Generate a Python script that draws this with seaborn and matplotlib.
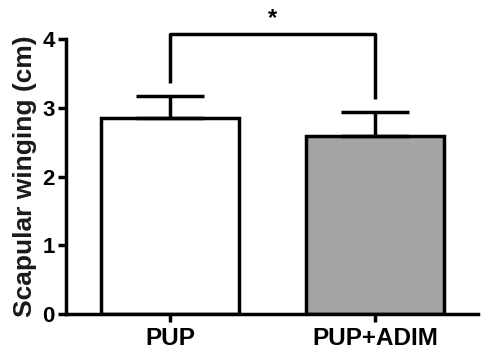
import matplotlib
matplotlib.use("Agg")
import matplotlib.pyplot as plt
import seaborn as sns
import pandas as pd
import numpy as np

categories = ["PUP", "PUP+ADIM"]
means = [2.855, 2.59]
sem = [0.32, 0.35]
bar_colors = ["#ffffff", "#a4a4a8"]
y_ticks = [0, 1, 2, 3, 4]
y_label = "Scapular winging (cm)"
bracket_top = 4.07
bracket_legs = [3.36, 3.13]
sig_label = "*"

sns.set_theme(style="ticks")
plt.rcParams["font.family"] = ["Liberation Sans", "DejaVu Sans"]
plt.rcParams["font.weight"] = "bold"
plt.rcParams["text.color"] = "black"
plt.rcParams["axes.labelcolor"] = "black"

df = pd.DataFrame({"group": categories, "value": means})

fig = plt.figure(figsize=(4.91, 3.58), dpi=100)
ax = fig.add_axes([0.1344, 0.1229, 0.9735 - 0.1344, 0.891 - 0.1229])

lw = 2.5
sns.barplot(data=df, x="group", y="value", hue="group", palette=bar_colors,
            order=categories, hue_order=categories, width=0.67,
            edgecolor="black", linewidth=lw, errorbar=None, legend=False, ax=ax)

xs = np.arange(len(categories))
ax.errorbar(xs, means, yerr=[np.zeros(len(sem)), sem], fmt="none",
            ecolor="black", elinewidth=lw, capsize=24.5, capthick=lw, zorder=1)

# significance bracket
ax.plot([xs[0], xs[0], xs[1], xs[1]],
        [bracket_legs[0], bracket_top, bracket_top, bracket_legs[1]],
        color="black", lw=lw, clip_on=False, solid_capstyle="butt")
ax.text((xs[0] + xs[1]) / 2, 4.3, sig_label, ha="center", va="center",
        fontsize=17, fontweight="bold", color="black", clip_on=False)

ax.set_xlim(-0.507, 1.502)
ax.set_ylim(0, 4)
ax.set_yticks(y_ticks)
ax.set_yticklabels([str(t) for t in y_ticks], fontsize=16, fontweight="bold")
ax.set_xticks(xs)
ax.set_xticklabels(categories, fontsize=17.5, fontweight="bold")
ax.set_xlabel("")
ax.set_ylabel(y_label, fontsize=19, fontweight="bold", labelpad=4, color="#1a1a1a")

for s in ["top", "right"]:
    ax.spines[s].set_visible(False)
for s in ["left", "bottom"]:
    ax.spines[s].set_linewidth(lw)
    ax.spines[s].set_color("black")
ax.tick_params(axis="both", width=lw, length=6, color="black", labelcolor="black")
ax.tick_params(axis="y", pad=2)
ax.tick_params(axis="x", pad=3)

fig.savefig("out.png", dpi=100)
